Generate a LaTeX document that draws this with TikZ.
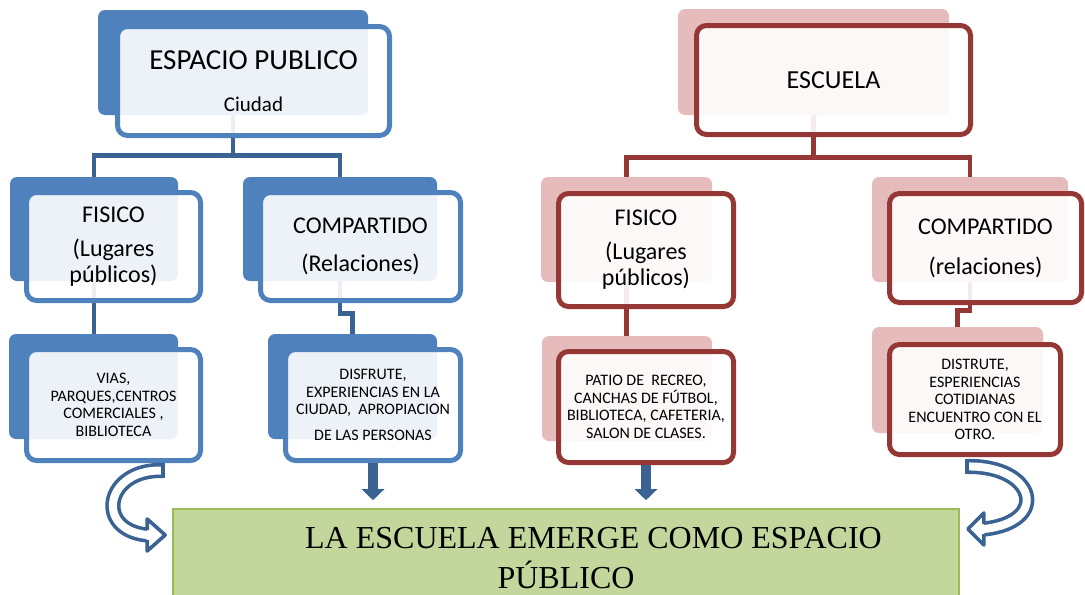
\documentclass[tikz,border=0pt]{standalone}
\usepackage{fontspec}
\setmainfont{Carlito}
\newfontfamily\timesfont{Liberation Serif}
\usetikzlibrary{arrows.meta,calc}

\definecolor{azul}{RGB}{79,129,189}
\definecolor{azuloscuro}{RGB}{58,99,148}
\definecolor{rojo}{RGB}{149,55,53}
\definecolor{rosa}{RGB}{230,187,187}
\definecolor{verde}{RGB}{195,214,155}
\definecolor{verdeborde}{RGB}{155,187,89}

\pgfdeclarelayer{wires}
\pgfsetlayers{wires,main}

\begin{document}
\begin{tikzpicture}[x=0.5pt,y=-0.5pt,
		back/.style={rounded corners=3.5pt, inner sep=0pt},
		azulback/.style={back, fill=azul},
		rosaback/.style={back, fill=rosa},
		front/.style={line width=2.5pt, rounded corners=5pt, fill=white, fill opacity=0.9, text opacity=1, align=center, inner sep=0pt},
		azulbox/.style={front, draw=azul},
		rojobox/.style={front, draw=rojo},
		medio/.style={font=\fontsize{12}{13}\selectfont},
		chico/.style={font=\fontsize{8}{8.75}\selectfont},
		linea/.style={line width=2.2pt},
		flecha/.style={azuloscuro, line width=5pt, -{Triangle[width=11pt,length=5.5pt]}, shorten >=4pt},
		banda/.style={azuloscuro, line width=1.8pt, double=white, double distance=4pt},
		punta/.style={azuloscuro, line width=1.8pt, line join=round}]
			\useasboundingbox (0,0) rectangle (1085,594);
			% espacio publico
			\node[azulback, minimum width=135pt, minimum height=52.5pt] (espacio-bg) at (233,62.5) {};
			\node[azulbox, minimum width=136pt, minimum height=54.5pt, font=\fontsize{14.5}{21}\selectfont] (espacio) at (253.5,81) {ESPACIO PUBLICO\\{\fontsize{10.5}{12}\selectfont Ciudad}};
			\node[azulback, minimum width=84pt, minimum height=52pt] (fisicoA-bg) at (94,229) {};
			\node[azulbox, medio, minimum width=87pt, minimum height=54pt] (fisicoA) at (113.5,246.5) {FISICO\\[4pt](Lugares\\públicos)};
			\node[azulback, minimum width=97pt, minimum height=52pt] (compA-bg) at (340,229) {};
			\node[azulbox, medio, minimum width=100pt, minimum height=54pt] (compA) at (360.5,246.5) {COMPARTIDO\\[6pt](Relaciones)};
			\node[azulback, minimum width=84.5pt, minimum height=52.5pt] (viasA-bg) at (93.5,386.5) {};
			\node[azulbox, chico, minimum width=87pt, minimum height=55.5pt] (viasA) at (113.5,405) {VIAS,\\PARQUES,CENTROS\\COMERCIALES ,\\BIBLIOTECA};
			\node[azulback, minimum width=84.5pt, minimum height=52.5pt] (disfA-bg) at (352.5,386.5) {};
			\node[azulbox, chico, minimum width=87.5pt, minimum height=55.5pt] (disfA) at (373,405) {DISFRUTE,\\EXPERIENCIAS EN LA\\CIUDAD,\ \ APROPIACION\\[4pt]DE LAS PERSONAS};
			% escuela
			\node[rosaback, minimum width=135.5pt, minimum height=53pt] (escuela-bg) at (813.5,62) {};
			\node[rojobox, minimum width=137pt, minimum height=54.5pt, font=\fontsize{13}{15}\selectfont] (escuela) at (833.5,80) {ESCUELA};
			\node[rosaback, minimum width=85.5pt, minimum height=52.5pt] (fisicoB-bg) at (626.5,229.5) {};
			\node[rojobox, medio, minimum width=87.5pt, minimum height=56.5pt] (fisicoB) at (646,250) {FISICO\\[4pt](Lugares\\públicos)};
			\node[rosaback, minimum width=98pt, minimum height=52.5pt] (compB-bg) at (970,229.5) {};
			\node[rojobox, medio, minimum width=96pt, minimum height=54.5pt] (compB) at (985.5,248) {COMPARTIDO\\[7pt](relaciones)};
			\node[rosaback, minimum width=85pt, minimum height=52.5pt] (patioB-bg) at (627,388.5) {};
			\node[rojobox, chico, minimum width=87.5pt, minimum height=55.5pt] (patioB) at (646,407) {PATIO DE\ \ RECREO,\\CANCHAS DE FÚTBOL,\\BIBLIOTECA, CAFETERIA,\\SALON DE CLASES.};
			\node[rosaback, minimum width=85.5pt, minimum height=53pt] (distB-bg) at (957.5,380) {};
			\node[rojobox, chico, minimum width=85.5pt, minimum height=55pt] (distB) at (975,399.5) {DISTRUTE,\\ESPERIENCIAS\\COTIDIANAS\\ENCUENTRO CON EL\\OTRO.};
			% conclusion
			\node[draw=verdeborde, fill=verde, line width=0.8pt, minimum width=393pt, minimum height=49.5pt, align=center, font=\timesfont\fontsize{16}{20}\selectfont] (emerge) at (566,558.5) {\hspace*{27.5pt}LA ESCUELA EMERGE COMO ESPACIO\\PÚBLICO};
			\begin{pgfonlayer}{wires}
				\draw[linea, azuloscuro] (espacio-bg.south) -- ++(0,40) -| (fisicoA-bg.north);
				\draw[linea, azuloscuro] (espacio-bg.south) -- ++(0,40) -| (compA-bg.north);
				\draw[linea, azuloscuro] (fisicoA-bg.south) -- (fisicoA-bg.south |- viasA-bg.north);
				\draw[linea, azuloscuro] (compA-bg.south) -- ++(0,32) -| (disfA-bg.north);
				\draw[linea, rojo] (escuela-bg.south) -- ++(0,42) -| (fisicoB-bg.north);
				\draw[linea, rojo] (escuela-bg.south) -- ++(0,42) -| (compB-bg.north);
				\draw[linea, rojo] (fisicoB-bg.south) -- (fisicoB-bg.south |- patioB-bg.north);
				\draw[linea, rojo] (compB-bg.south) -- ++(0,28) -| (distB-bg.north);
			\end{pgfonlayer}
			\draw[flecha] (disfA.south) -- (disfA.south |- emerge.north);
			\draw[flecha] (patioB.south) -- (patioB.south |- emerge.north);
			% curved arrows
			\coordinate (colaA) at ($(viasA.south)+(49.5,7.5)$);
			\coordinate (puntaA) at ($(emerge.west)+(-7,-23.5)$);
			\coordinate (colaB) at ($(distB.south)+(-8,9.5)$);
			\coordinate (puntaB) at ($(emerge.east)+(8,-29.5)$);
			\draw[banda] (colaA) .. controls ($(colaA)+(-58,-2)$) and ($(puntaA)+(-71,-5)$) .. ($(puntaA)+(-18,0)$);
			\draw[punta] ([yshift=-3.8pt]colaA) -- ([yshift=3.8pt]colaA);
			\fill[white, shift={(puntaA)}] (-18,-16) -- (0,0) -- (-18,16) -- cycle;
			\draw[punta, shift={(puntaA)}] (-18,-5) -- (-18,-16) -- (0,0) -- (-18,16) -- (-18,5);
			\draw[banda] (colaB) .. controls ($(colaB)+(68,-1.5)$) and ($(puntaB)+(83,-7)$) .. ($(puntaB)+(16,0)$);
			\draw[punta] ([yshift=-3.8pt]colaB) -- ([yshift=3.8pt]colaB);
			\fill[white, shift={(puntaB)}] (16,-16) -- (0,0) -- (16,16) -- cycle;
			\draw[punta, shift={(puntaB)}] (16,-5) -- (16,-16) -- (0,0) -- (16,16) -- (16,5);
		\end{tikzpicture}
\end{document}
